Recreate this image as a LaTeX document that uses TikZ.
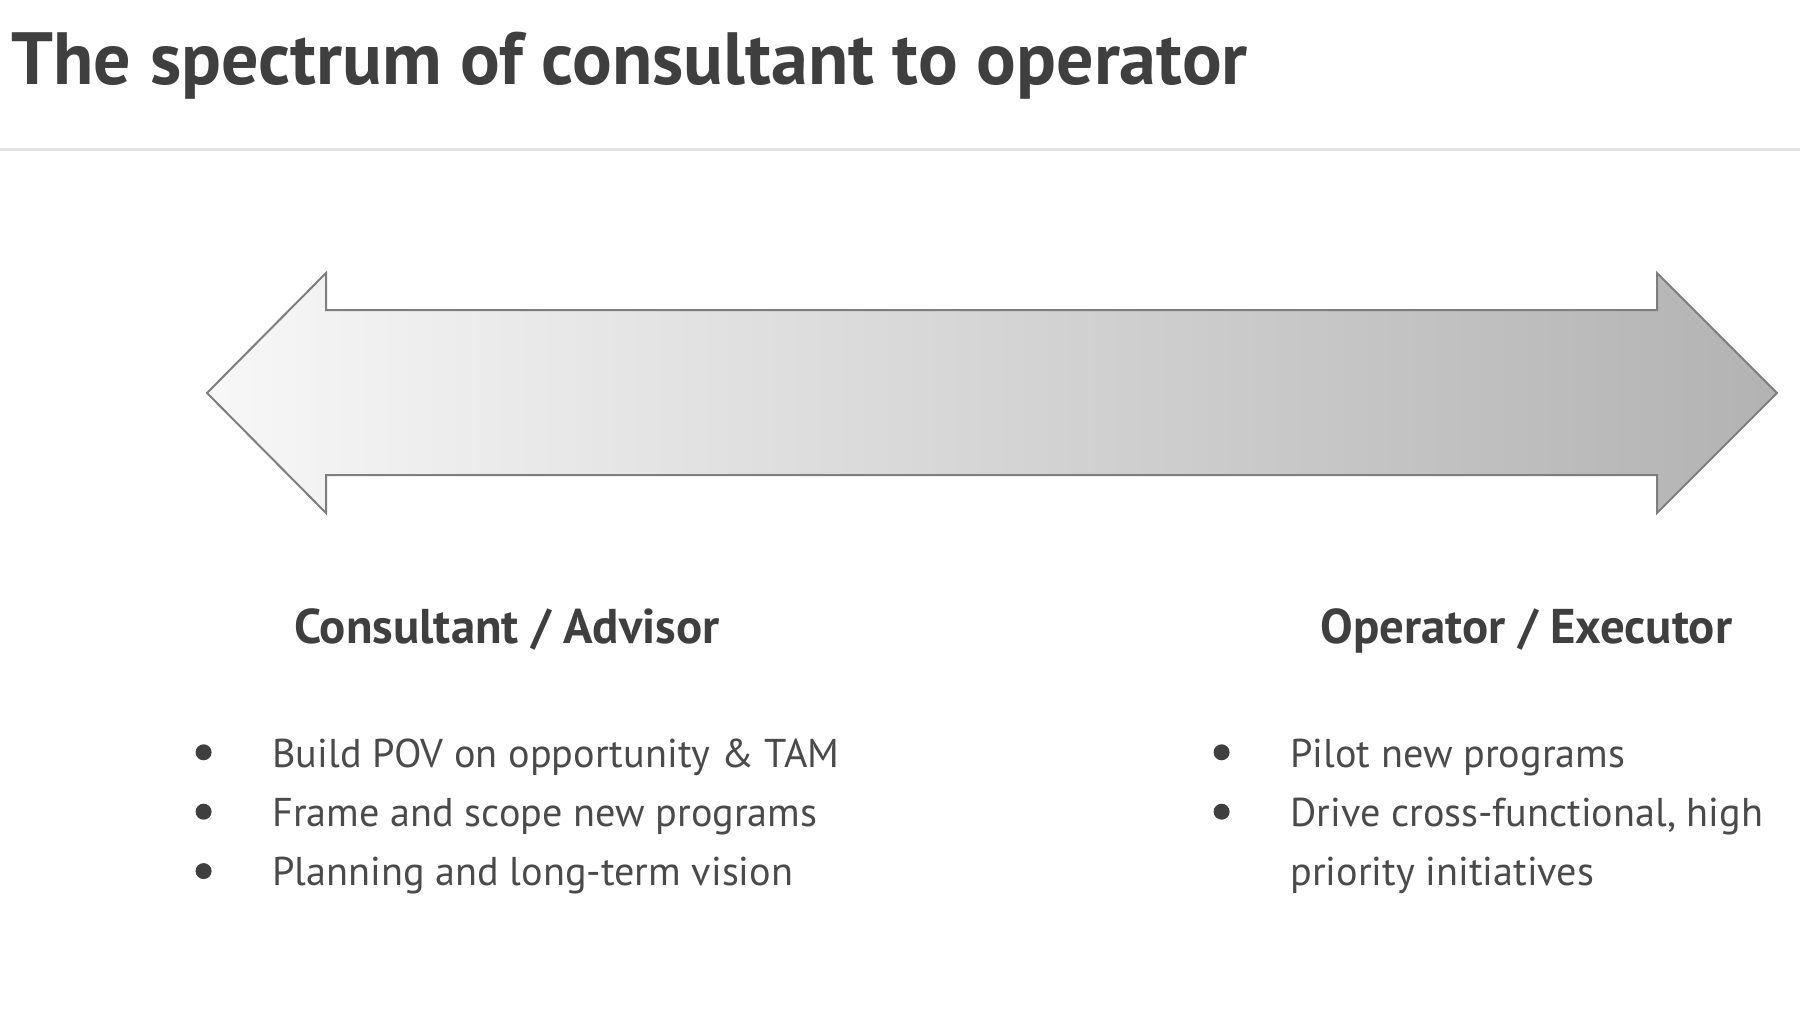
\documentclass[tikz,border=0pt]{standalone}
\usepackage{fontspec}
\setmainfont{PT Sans}
\usepackage{xcolor}
\usetikzlibrary{positioning}
\definecolor{ink}{HTML}{3F3F3F}
\definecolor{body}{HTML}{4A4A4A}
\definecolor{rule}{HTML}{E2E2E2}
\definecolor{edge}{HTML}{7E7E7E}

\begin{document}
\begin{tikzpicture}[x=0.5pt,y=-0.5pt,
  head/.style={anchor=base west, inner sep=0pt, text=ink, font=\bfseries\fontsize{24.4}{29}\selectfont},
  item/.style={inner sep=0pt, text=body, text height=22pt, text depth=7.3pt, font=\fontsize{20.1}{29.3}\selectfont},
  dot/.style={circle, fill=ink, inner sep=0pt, minimum size=8pt}]
\useasboundingbox (0,0) rectangle (1800,1012);

\node[anchor=base west, inner sep=0pt, text=ink, font=\bfseries\fontsize{37}{44}\selectfont] (title) at (11,84) {The spectrum of consultant to operator};
\draw[rule, line width=1.5pt] (0,149) -- (1800,149);

% spectrum arrow
\draw[edge, line width=1pt, left color=white!97!black, right color=black!30, shading angle=90]
  (207,393) -- (326,273) -- (326,310) -- (1657,310) -- (1657,273) -- (1777,393)
  -- (1657,513) -- (1657,475) -- (326,475) -- (326,513) -- cycle;

\node[head] (cons) at (294,643) {Consultant / Advisor};
\node[head] (oper) at (1320,643) {Operator / Executor};

\node[item, anchor=base west] (c1) at (272,767) {Build POV on opportunity \& TAM};
\node[item, below=0pt of c1.south west, anchor=north west] (c2) {Frame and scope new programs};
\node[item, below=0pt of c2.south west, anchor=north west] (c3) {Planning and long-term vision};

\node[item, anchor=base west] (o1) at (1290,767) {Pilot new programs};
\node[item, below=0pt of o1.south west, anchor=north west] (o2) {Drive cross-functional, high};
\node[item, below=0pt of o2.south west, anchor=north west] (o3) {priority initiatives};

\foreach \n in {c1,c2,c3,o1,o2}
  \node[dot, left=30pt of \n.west] (dot-\n) {};
\end{tikzpicture}
\end{document}
